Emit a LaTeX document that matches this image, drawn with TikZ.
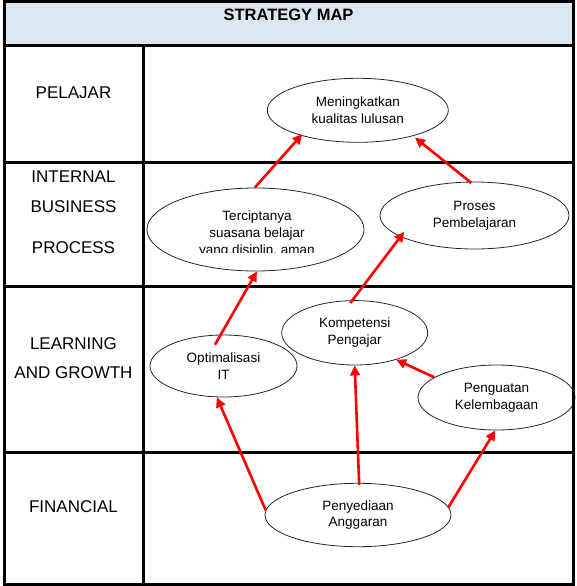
\documentclass[tikz,border=0pt]{standalone}
\usepackage{fontspec}
\setmainfont{Liberation Sans}
\usetikzlibrary{arrows.meta,shapes.geometric}
\definecolor{titlefill}{HTML}{DCE6F1}
\definecolor{arrowred}{HTML}{FF0000}
\begin{document}
\begin{tikzpicture}[x=1pt,y=-1pt,
  oval/.style={ellipse, draw=black!85, line width=0.8pt, inner sep=0pt, align=center,
    font=\fontsize{13.5}{16.7}\selectfont},
  ovaltext/.style={inner sep=0pt, align=center, font=\fontsize{13.5}{16.7}\selectfont},
  rowlabel/.style={anchor=base, inner sep=0pt, font=\fontsize{17}{19}\selectfont},
  titletext/.style={anchor=base, inner sep=0pt, font=\fontsize{16.5}{19}\selectfont\bfseries},
  gridline/.style={line width=3pt},
  link/.style={draw=arrowred, line width=2.6pt, -{Triangle[length=10pt,width=9.5pt]}}]
\useasboundingbox (0,0) rectangle (576,586);
% title band
\fill[titlefill] (4,2) rectangle (573,46);
\node[titletext] (title) at (288.5,21) {STRATEGY MAP};
% ellipses
\node[oval, minimum width=181pt, minimum height=64pt] (men) at (357.8,110.3) {Meningkatkan\\kualitas lulusan};
\node[oval, minimum width=217pt, minimum height=83pt] (terc) at (255.5,229.5) {};
\begin{scope}
  \clip (150,190) rectangle (362,252.5);
  \node[ovaltext] (tercText) at (257,234) {Terciptanya\\suasana belajar\\yang disiplin, aman};
\end{scope}
\node[oval, minimum width=189pt, minimum height=67pt] (proses) at (474.5,215.5) {Proses\\Pembelajaran};
\node[oval, minimum width=146pt, minimum height=64.4pt] (komp) at (354.7,332.8) {Kompetensi\\Pengajar};
\node[oval, minimum width=147pt, minimum height=62pt] (opt) at (223.5,366) {Optimalisasi\\IT};
\node[oval, minimum width=157pt, minimum height=65pt] (peng) at (496.5,397.5) {Penguatan\\Kelembagaan};
\node[oval, minimum width=186pt, minimum height=63.4pt] (pen) at (358,515) {Penyediaan\\Anggaran};
% table grid
\draw[gridline] (4,2) rectangle (573,584);
\draw[gridline] (4,46) -- (573,46);
\draw[gridline] (4,162) -- (573,162);
\draw[gridline] (4,286) -- (573,286);
\draw[gridline] (4,452) -- (573,452);
\draw[gridline] (143,46) -- (143,584);
% row labels
\node[rowlabel] (lPel) at (73.5,98) {PELAJAR};
\node[rowlabel] (lInt) at (73.5,182) {INTERNAL};
\node[rowlabel] (lBus) at (73.5,212) {BUSINESS};
\node[rowlabel] (lPro) at (73.5,253) {PROCESS};
\node[rowlabel] (lLea) at (73.5,349) {LEARNING};
\node[rowlabel] (lAnd) at (73.5,378) {AND GROWTH};
\node[rowlabel] (lFin) at (73.5,512) {FINANCIAL};
% connectors
\draw[link] (pen.177) -- (opt.258.5);
\draw[link, shorten <=-2pt] (pen.88) -- (komp.270);
\draw[link] (pen.5.5) -- (peng.268);
\draw[link] (peng.162.5) -- (komp.327);
\draw[link, shorten <=-11.6pt] (opt.95) -- (terc.272);
\draw[link, shorten <=-3.5pt, shorten >=-6.2pt] (komp.94.3) -- (proses.196);
\draw[link, shorten >=-2pt] (terc.91) -- (men.204);
\draw[link, shorten <=-2pt, shorten >=2.5pt] (proses.98.8) -- (men.335);
\end{tikzpicture}
\end{document}
